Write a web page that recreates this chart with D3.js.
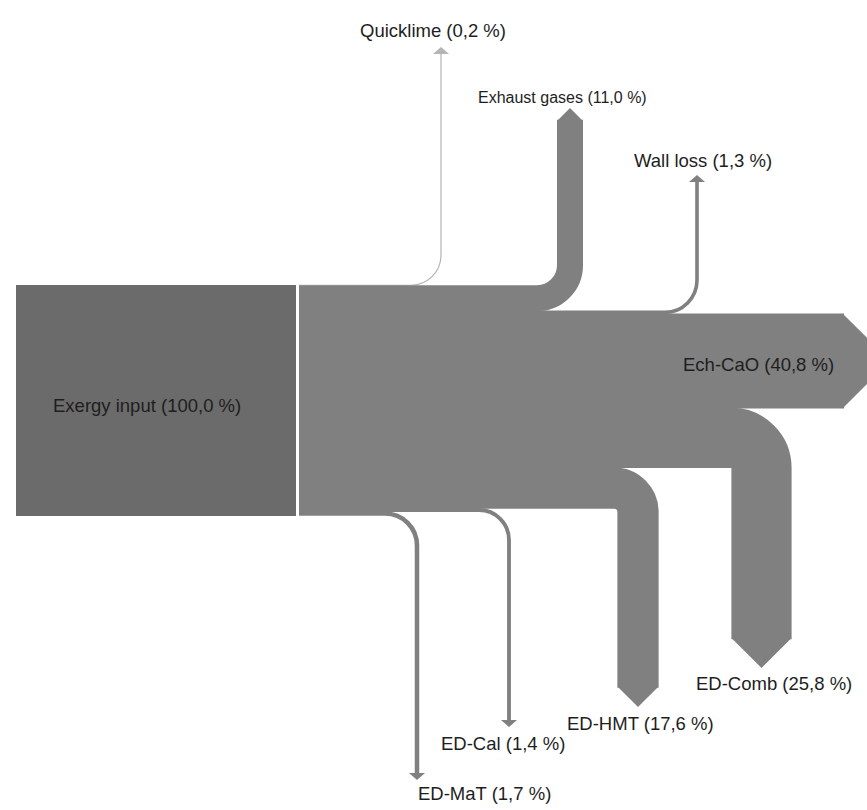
<!DOCTYPE html>
<html>
<head>
<meta charset="utf-8">
<script src="https://cdn.jsdelivr.net/npm/d3@7"></script>
<style>
  body { margin: 0; background: #fff; }
  text { font-family: "Liberation Sans", Arial, sans-serif; fill: #1e1e1e; }
</style>
</head>
<body>
<div id="chart"></div>
<script>
/* data */
const inputName = "Exergy input";
const inputValue = 100.0;
const flowNames = ["Quicklime", "Exhaust gases", "Wall loss", "Ech-CaO", "ED-Comb", "ED-HMT", "ED-Cal", "ED-MaT"];
const flowValues = [0.2, 11.0, 1.3, 40.8, 25.8, 17.6, 1.4, 1.7];

/* layout: where each flow turns and ends, where its label sits */
const layout = {
    "Quicklime":     {dir: "up",    x: 441,   r: 30, end: 47,  lx: 360, ly: 37},
    "Exhaust gases": {dir: "up",    x: 570,   r: 33, end: 108, lx: 478, ly: 103, size: 16},
    "Wall loss":     {dir: "up",    x: 697,   r: 32, end: 175, lx: 634, ly: 167},
    "Ech-CaO":       {dir: "right", x: 843,   end: 843, lx: 683, ly: 371},
    "ED-Comb":       {dir: "down",  x: 761.5, r: 30, end: 668, lx: 696, ly: 690},
    "ED-HMT":        {dir: "down",  x: 638,   r: 24, end: 707, lx: 567, ly: 730},
    "ED-Cal":        {dir: "down",  x: 509,   r: 30, end: 727, lx: 441, ly: 750},
    "ED-MaT":        {dir: "down",  x: 417,   r: 32, end: 780, lx: 418, ly: 800}
};

const width = 867;
const height = 810;
const top0 = 285;
const boxX0 = 16, boxX1 = 296, trunkX = 299;
const flowColor = "#808080";
const inputColor = "#6b6b6b";

const fmt = v => d3.format(".1f")(v).replace(".", ",");

const svg = d3.select("#chart").append("svg")
    .attr("width", width)
    .attr("height", height);

const thick = d3.scaleLinear().domain([0, 100]).range([0, 231]);
const cum = [0, ...d3.cumsum(flowValues)];

const flows = flowNames.map((name, i) => {
    const t = thick(flowValues[i]);
    return Object.assign({
        name: name,
        value: flowValues[i],
        t: t,
        yc: top0 + thick(cum[i]) + t / 2,
        thin: t < 5
    }, layout[name]);
});

/* input block */
svg.append("rect")
    .attr("x", boxX0)
    .attr("y", top0)
    .attr("width", boxX1 - boxX0)
    .attr("height", thick(inputValue))
    .attr("fill", inputColor);

/* arrow head geometry */
function headLen(f) { return f.thin ? 7 : f.t / 2; }
function headHalf(f) { return f.thin ? 8 : f.t / 2; }

function shoulder(f) {
    const h = headLen(f);
    if (f.dir === "up") return f.end + h;
    if (f.dir === "down") return f.end - h;
    return f.end;
}

function flowPath(f) {
    const p = d3.path();
    p.moveTo(trunkX, f.yc);
    const s = shoulder(f);
    if (f.dir === "right") {
        p.lineTo(s + 1, f.yc);
    } else {
        // run the band a little into the head so no seam shows
        const sy = f.dir === "up" ? s - 1 : s + 1;
        p.lineTo(f.x - f.r, f.yc);
        p.arcTo(f.x, f.yc, f.x, sy, f.r);
        p.lineTo(f.x, sy);
    }
    return p.toString();
}

function headPoints(f) {
    const s = shoulder(f), h = headHalf(f);
    if (f.dir === "up") return [[f.x - h, s], [f.x, f.end], [f.x + h, s]];
    if (f.dir === "down") return [[f.x - h, s], [f.x, s + headLen(f)], [f.x + h, s]];
    const half = f.t / 2;
    return [[s, f.yc - half], [s + half, f.yc], [s, f.yc + half]];
}

const isLime = f => f.name === "Quicklime";
const colorOf = f => isLime(f) ? "#b4b4b4" : flowColor;

/* quicklime first so the trunk covers its straight part, then wide to thin */
const order = flows.slice().sort((a, b) =>
    (isLime(b) - isLime(a)) || (b.t - a.t));

svg.append("g")
    .selectAll("path")
    .data(order)
    .enter()
    .append("path")
    .attr("d", flowPath)
    .attr("fill", "none")
    .attr("stroke", colorOf)
    .attr("stroke-width", f => isLime(f) ? 1.2 : f.t + 0.6);

svg.append("g")
    .selectAll("polygon")
    .data(order)
    .enter()
    .append("polygon")
    .attr("points", f => headPoints(f).map(p => p.join(",")).join(" "))
    .attr("fill", colorOf);

/* labels */
svg.append("text")
    .attr("x", 53)
    .attr("y", 412)
    .attr("font-size", 18.5)
    .text(`${inputName} (${fmt(inputValue)} %)`);

svg.append("g")
    .selectAll("text")
    .data(flows)
    .enter()
    .append("text")
    .attr("x", f => f.lx)
    .attr("y", f => f.ly)
    .attr("font-size", f => f.size || 18.5)
    .text(f => `${f.name} (${fmt(f.value)} %)`);
</script>
</body>
</html>
